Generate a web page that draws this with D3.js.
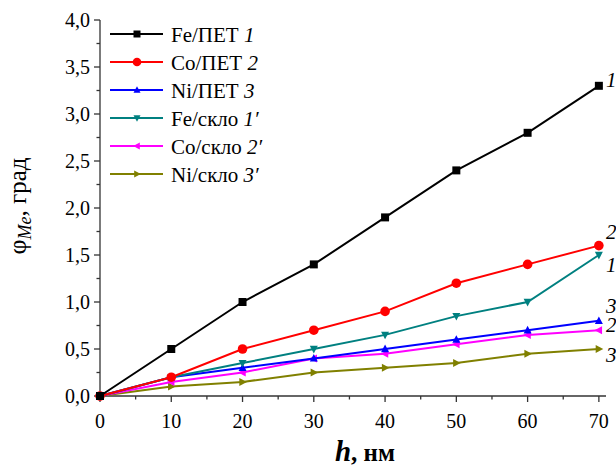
<!DOCTYPE html>
<html>
<head>
<meta charset="utf-8">
<script src="https://cdn.jsdelivr.net/npm/d3@7"></script>
</head>
<body style="margin:0">
<svg id="chart" width="616" height="466"></svg>
<script>
var thickness = [0, 10, 20, 30, 40, 50, 60, 70];
var fePet = [0, 0.5, 1.0, 1.4, 1.9, 2.4, 2.8, 3.3];
var coPet = [0, 0.2, 0.5, 0.7, 0.9, 1.2, 1.4, 1.6];
var niPet = [0, 0.2, 0.3, 0.4, 0.5, 0.6, 0.7, 0.8];
var feGlass = [0, 0.2, 0.35, 0.5, 0.65, 0.85, 1.0, 1.5];
var coGlass = [0, 0.15, 0.25, 0.4, 0.45, 0.55, 0.65, 0.7];
var niGlass = [0, 0.1, 0.15, 0.25, 0.3, 0.35, 0.45, 0.5];
var seriesNames = ['Fe/ПЕТ', 'Co/ПЕТ', 'Ni/ПЕТ', 'Fe/скло', 'Co/скло', 'Ni/скло'];
var seriesTags = ['1', '2', '3', '1′', '2′', '3′'];
var xTicks = [0, 10, 20, 30, 40, 50, 60, 70];
var yTicks = [0, 0.5, 1, 1.5, 2, 2.5, 3, 3.5, 4];

var series = [
  { values: fePet, color: '#000000', marker: 'square' },
  { values: coPet, color: '#ff0000', marker: 'circle' },
  { values: niPet, color: '#0000ff', marker: 'up' },
  { values: feGlass, color: '#008080', marker: 'down' },
  { values: coGlass, color: '#ff00ff', marker: 'left' },
  { values: niGlass, color: '#808000', marker: 'right' }
].map(function(s, i) {
  s.name = seriesNames[i];
  s.tag = seriesTags[i];
  s.points = thickness.map(function(h, j) { return [h, s.values[j]]; });
  return s;
});

var svg = d3.select('#chart');
var x = d3.scaleLinear().domain([0, 71]).range([100, 606]);
var y = d3.scaleLinear().domain([0, 4]).range([396, 20]);

// all texts go straight on the svg root, absolute coords
function addText(tx, ty, size) {
  return svg.append('text').attr('x', tx).attr('y', ty)
    .attr('font-size', size).attr('font-family', '"Liberation Serif"');
}

// minor ticks
var xMinor = d3.range(5, 71, 10);
var yMinor = d3.range(0.25, 4, 0.5);

var xAxis = svg.append('g').attr('transform', 'translate(0,' + y(0) + ')');
xAxis.append('line').attr('x1', x(0)).attr('x2', x(71)).attr('stroke', '#333').attr('stroke-width', 1.3);
xAxis.selectAll('line.maj').data(xTicks).enter().append('line')
  .attr('class', 'maj').attr('x1', x).attr('x2', x).attr('y1', 0).attr('y2', 6)
  .attr('stroke', '#333').attr('stroke-width', 1.3);
xAxis.selectAll('line.min').data(xMinor).enter().append('line')
  .attr('class', 'min').attr('x1', x).attr('x2', x).attr('y1', 0).attr('y2', 3.5)
  .attr('stroke', '#333').attr('stroke-width', 1.3);

var yAxis = svg.append('g').attr('transform', 'translate(' + x(0) + ',0)');
yAxis.append('line').attr('y1', y(0)).attr('y2', y(4)).attr('stroke', '#333').attr('stroke-width', 1.3);
yAxis.selectAll('line.maj').data(yTicks).enter().append('line')
  .attr('class', 'maj').attr('y1', y).attr('y2', y).attr('x1', 0).attr('x2', -6)
  .attr('stroke', '#333').attr('stroke-width', 1.3);
yAxis.selectAll('line.min').data(yMinor).enter().append('line')
  .attr('class', 'min').attr('y1', y).attr('y2', y).attr('x1', 0).attr('x2', -3.5)
  .attr('stroke', '#333').attr('stroke-width', 1.3);

// markers
function markerPath(type, size) {
  var s = size;
  switch (type) {
    case 'square': return 'M' + (-s) + ',' + (-s) + 'H' + s + 'V' + s + 'H' + (-s) + 'Z';
    case 'up': return 'M0,' + (-s * 1.1) + 'L' + s + ',' + (s * 0.8) + 'L' + (-s) + ',' + (s * 0.8) + 'Z';
    case 'down': return 'M0,' + (s * 1.1) + 'L' + s + ',' + (-s * 0.8) + 'L' + (-s) + ',' + (-s * 0.8) + 'Z';
    case 'left': return 'M' + (-s * 1.1) + ',0L' + (s * 0.8) + ',' + (-s) + 'L' + (s * 0.8) + ',' + s + 'Z';
    case 'right': return 'M' + (s * 1.1) + ',0L' + (-s * 0.8) + ',' + (-s) + 'L' + (-s * 0.8) + ',' + s + 'Z';
  }
}
function drawMarker(g, type, color, size) {
  if (type === 'circle') {
    g.append('circle').attr('r', size + 0.8).attr('fill', color);
  } else {
    g.append('path').attr('d', markerPath(type, size)).attr('fill', color);
  }
}

var line = d3.line().x(function(d) { return x(d[0]); }).y(function(d) { return y(d[1]); });

var order = [5, 4, 2, 3, 1, 0];
order.forEach(function(i) {
  var s = series[i];
  var g = svg.append('g');
  g.append('path').attr('d', line(s.points)).attr('fill', 'none')
    .attr('stroke', s.color).attr('stroke-width', 2);
  g.selectAll('g').data(s.points).enter().append('g')
    .attr('transform', function(d) { return 'translate(' + x(d[0]) + ',' + y(d[1]) + ')'; })
    .each(function() { drawMarker(d3.select(this), s.marker, s.color, 4); });
});

// legend marks
var legend = svg.append('g').attr('transform', 'translate(110,34)');
series.forEach(function(s, i) {
  var row = legend.append('g').attr('transform', 'translate(0,' + (i * 28) + ')');
  row.append('line').attr('x1', 0).attr('x2', 53).attr('stroke', s.color).attr('stroke-width', 2);
  var m = row.append('g').attr('transform', 'translate(27,0)');
  drawMarker(m, s.marker, s.color, 3.5);
});

// texts
xTicks.forEach(function(d) {
  addText(x(d), y(0) + 32, 20).attr('text-anchor', 'middle').text(d);
});
yTicks.forEach(function(d) {
  addText(x(0) - 10, y(d) + 7, 20).attr('text-anchor', 'end')
    .text(d3.format('.1f')(d).replace('.', ','));
});

var xt = addText(365, 461, 29).attr('text-anchor', 'middle');
xt.append('tspan').attr('font-style', 'italic').attr('font-weight', 'bold').text('h');
xt.append('tspan').attr('font-weight', 'bold').attr('font-size', 25).text(', нм');

var yt = addText(0, 0, 26).attr('transform', 'translate(26,206) rotate(-90)').attr('text-anchor', 'middle');
yt.append('tspan').text('φ');
yt.append('tspan').attr('font-style', 'italic').attr('font-size', 18).attr('dy', 5).text('Me');
yt.append('tspan').attr('dy', -5).attr('font-size', 25).text(', град');

var labelDy = [1, -7, -8, 17, 2, 13];
series.forEach(function(s, i) {
  var last = s.points[s.points.length - 1];
  addText(606, y(last[1]) + labelDy[i], 21).attr('font-style', 'italic').text(s.tag);
});

series.forEach(function(s, i) {
  var t = addText(171, 34 + i * 28 + 8, 21);
  t.append('tspan').text(s.name + ' ');
  t.append('tspan').attr('font-style', 'italic').text(s.tag);
});
</script>
</body>
</html>
